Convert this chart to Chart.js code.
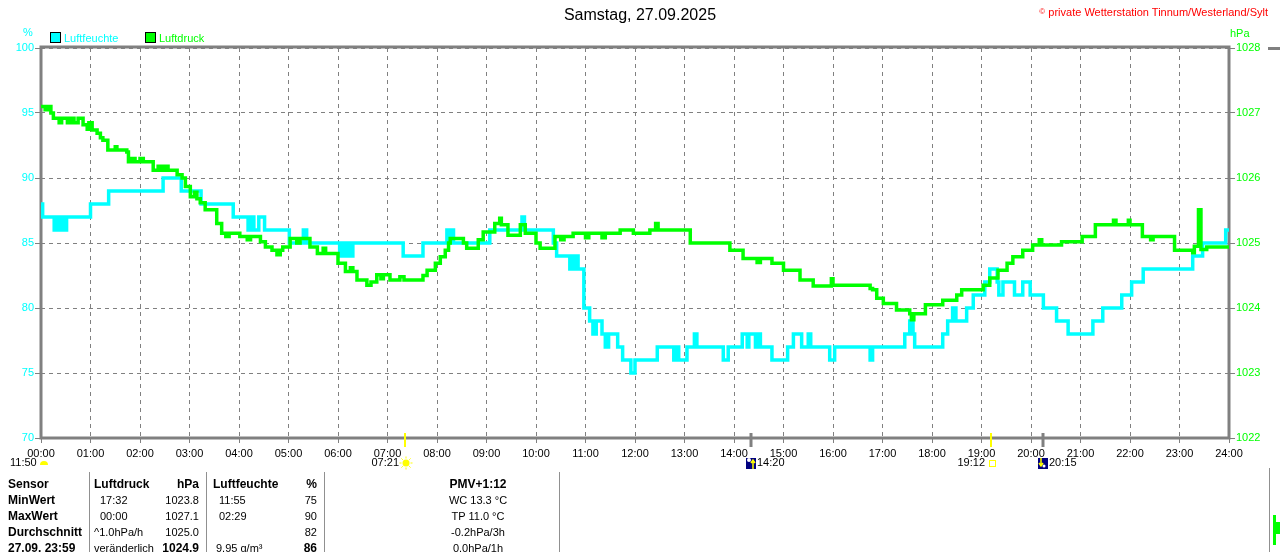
<!DOCTYPE html>
<html><head><meta charset="utf-8">
<script src="https://cdn.jsdelivr.net/npm/chart.js@4.4.0/dist/chart.umd.min.js"></script>
<style>
html,body{margin:0;padding:0;background:#fff;width:1280px;height:552px;overflow:hidden;font-family:"Liberation Sans",Arial,sans-serif;}
#wrap{position:relative;width:1280px;height:552px;}
canvas{position:absolute;left:0;top:0;}
.t{position:absolute;white-space:nowrap;font-size:11px;line-height:16px;color:#000;}
.b{font-weight:bold;font-size:12px;}
.sep{position:absolute;top:472px;height:80px;width:1px;background:#909090;}
.box{position:absolute;width:9px;height:9px;border:1px solid #000;}
</style></head>
<body><div id="wrap">
<canvas id="c" width="1280" height="552"></canvas>
<div class="t" style="left:0;width:1280px;top:6px;text-align:center;font-size:16px;line-height:18px;">Samstag, 27.09.2025</div>
<div class="t" style="right:12px;top:4px;color:#ff0000;"><span style="font-size:8px;vertical-align:top;">©</span> private Wetterstation Tinnum/Westerland/Sylt</div>
<div class="t" style="left:23px;top:24px;color:#00ffff;">%</div>
<div class="t" style="left:1230px;top:25px;color:#00ff00;">hPa</div>
<div class="box" style="left:50px;top:32px;background:#00ffff;"></div>
<div class="t" style="left:64px;top:30px;color:#00ffff;">Luftfeuchte</div>
<div class="box" style="left:145px;top:32px;background:#00ff00;"></div>
<div class="t" style="left:159px;top:30px;color:#00ff00;">Luftdruck</div>

<div class="sep" style="left:89px"></div>
<div class="sep" style="left:206px"></div>
<div class="sep" style="left:324px"></div>
<div class="sep" style="left:559px"></div>
<div class="sep" style="left:1269px;top:468px;height:84px"></div>
<div style="position:absolute;left:1268px;top:47px;width:12px;height:3px;background:#808080"></div>
<div style="position:absolute;left:1273px;top:515px;width:3px;height:30px;background:#00ff00"></div>
<div style="position:absolute;left:1276px;top:522px;width:4px;height:12px;background:#00ff00"></div>

<div class="t b" style="left:8px;top:476px">Sensor</div>
<div class="t b" style="left:8px;top:492px">MinWert</div>
<div class="t b" style="left:8px;top:508px">MaxWert</div>
<div class="t b" style="left:8px;top:524px">Durchschnitt</div>
<div class="t b" style="left:8px;top:540px">27.09. 23:59</div>

<div class="t b" style="left:94px;top:476px">Luftdruck</div>
<div class="t" style="left:100px;top:492px">17:32</div>
<div class="t" style="left:100px;top:508px">00:00</div>
<div class="t" style="left:94px;top:524px">^1.0hPa/h</div>
<div class="t" style="left:94px;top:540px">veränderlich</div>

<div class="t b" style="right:1081px;top:476px">hPa</div>
<div class="t" style="right:1081px;top:492px">1023.8</div>
<div class="t" style="right:1081px;top:508px">1027.1</div>
<div class="t" style="right:1081px;top:524px">1025.0</div>
<div class="t b" style="right:1081px;top:540px">1024.9</div>

<div class="t b" style="left:213px;top:476px">Luftfeuchte</div>
<div class="t" style="left:219px;top:492px">11:55</div>
<div class="t" style="left:219px;top:508px">02:29</div>
<div class="t" style="left:216px;top:540px">9.95 g/m³</div>

<div class="t b" style="right:963px;top:476px">%</div>
<div class="t" style="right:963px;top:492px">75</div>
<div class="t" style="right:963px;top:508px">90</div>
<div class="t" style="right:963px;top:524px">82</div>
<div class="t b" style="right:963px;top:540px">86</div>

<div class="t b" style="left:378px;width:200px;text-align:center;top:476px">PMV+1:12</div>
<div class="t" style="left:378px;width:200px;text-align:center;top:492px">WC 13.3 °C</div>
<div class="t" style="left:378px;width:200px;text-align:center;top:508px">TP 11.0 °C</div>
<div class="t" style="left:378px;width:200px;text-align:center;top:524px">-0.2hPa/3h</div>
<div class="t" style="left:378px;width:200px;text-align:center;top:540px">0.0hPa/1h</div>
</div>
<script>
// minutes since midnight
const humTimes = [0,2,16,19,22,26,28,31,60,82,148,170,194,233,251,255,258,264,271,301,318,322,362,366,368,371,374,378,439,463,492,496,498,500,544,583,586,621,625,641,645,648,650,651,658,665,669,673,680,684,688,699,705,715,720,747,767,771,773,783,792,795,827,833,850,856,858,866,868,872,886,905,912,922,930,933,956,962,1005,1008,1047,1053,1057,1059,1093,1099,1105,1109,1122,1130,1144,1150,1159,1161,1166,1180,1190,1199,1215,1231,1245,1275,1287,1310,1322,1336,1396,1408,1436,1440];
const humValues = [88,87,86,87,86,87,86,87,88,89,90,89,88,87,86,87,86,87,86,85,86,85,84,85,84,85,84,85,84,85,86,85,86,85,86,87,86,85,84,83,84,83,84,83,80,79,78,79,78,77,78,77,76,75,76,77,76,77,76,77,78,77,76,77,78,77,78,77,78,77,76,77,78,77,78,77,76,77,76,77,78,79,78,77,78,79,80,79,80,81,82,83,82,81,82,81,82,81,80,79,78,79,80,81,82,83,84,85,86,86];

const pressTimes = [0,5,8,12,15,22,25,32,36,40,45,51,56,58,62,68,72,75,81,90,92,104,106,110,114,120,124,136,142,146,150,154,165,171,175,181,186,189,193,199,213,219,224,228,241,250,254,266,272,280,286,290,293,302,310,314,326,335,342,345,360,369,375,378,383,395,400,407,412,415,423,435,440,463,468,478,484,490,494,496,512,516,530,536,550,556,558,566,581,587,600,605,623,630,634,645,660,664,680,684,702,718,738,745,748,787,835,851,868,872,886,900,920,936,958,960,1005,1008,1013,1021,1037,1053,1055,1058,1072,1093,1110,1116,1142,1150,1160,1171,1178,1190,1202,1210,1213,1237,1262,1278,1300,1303,1318,1320,1335,1345,1348,1374,1396,1398,1403,1406,1413,1440];
const pressValues = [1027.10,1027.05,1027.10,1027.00,1026.92,1026.85,1026.92,1026.85,1026.92,1026.85,1026.92,1026.82,1026.75,1026.85,1026.74,1026.69,1026.62,1026.58,1026.43,1026.48,1026.43,1026.40,1026.25,1026.30,1026.25,1026.30,1026.25,1026.12,1026.18,1026.12,1026.18,1026.12,1026.05,1026.00,1025.87,1025.71,1025.78,1025.68,1025.62,1025.51,1025.30,1025.15,1025.10,1025.15,1025.10,1025.05,1025.10,1025.02,1024.94,1024.89,1024.82,1024.89,1024.94,1025.07,1025.00,1025.07,1024.94,1024.84,1024.92,1024.84,1024.69,1024.56,1024.62,1024.56,1024.43,1024.35,1024.40,1024.51,1024.45,1024.51,1024.43,1024.48,1024.43,1024.50,1024.58,1024.69,1024.79,1024.89,1025.00,1025.07,1025.00,1024.92,1025.05,1025.17,1025.30,1025.38,1025.28,1025.12,1025.28,1025.15,1025.00,1024.92,1025.10,1025.05,1025.10,1025.15,1025.08,1025.15,1025.08,1025.15,1025.20,1025.15,1025.20,1025.30,1025.20,1025.00,1024.89,1024.76,1024.70,1024.76,1024.69,1024.58,1024.43,1024.34,1024.45,1024.35,1024.30,1024.28,1024.15,1024.07,1023.97,1023.91,1023.82,1023.91,1024.05,1024.12,1024.20,1024.28,1024.35,1024.46,1024.58,1024.69,1024.79,1024.89,1024.97,1025.05,1024.97,1025.02,1025.10,1025.28,1025.35,1025.28,1025.35,1025.28,1025.10,1025.05,1025.10,1024.89,1024.85,1024.95,1025.51,1024.90,1024.94,1024.94];

const hourTicks = ['00:00','01:00','02:00','03:00','04:00','05:00','06:00','07:00','08:00','09:00','10:00','11:00','12:00','13:00','14:00','15:00','16:00','17:00','18:00','19:00','20:00','21:00','22:00','23:00','24:00'];
const humTicks = [70,75,80,85,90,95,100];
const pressTicks = [1022,1023,1024,1025,1026,1027,1028];

// astronomical events: [minute, label]
const sunrise = [441,'07:21'];
const sunset = [1152,'19:12'];
const moonrise = [860,'14:20'];
const moonset = [1215,'20:15'];
const moonLabel = '11:50';

const humData = humTimes.map((t,i)=>({x:t,y:humValues[i]}));
const pressData = pressTimes.map((t,i)=>({x:t,y:pressValues[i]}));

const FONT = {family:'"Liberation Sans", Arial, sans-serif', size:11};
const GRAY = '#808080';

const framePlugin = {
  id:'frame',
  beforeDatasetsDraw(chart){
    const a = chart.chartArea, c = chart.ctx;
    c.save();
    c.strokeStyle = GRAY; c.lineWidth = 3;
    c.strokeRect(a.left, a.top-1, a.right-a.left, a.bottom-a.top+1);
    c.restore();
  },
  afterDraw(chart){
    const c = chart.ctx, xs = chart.scales.x, b = chart.chartArea.bottom;
    c.save();
    const mark = (m,col,w)=>{const x=Math.round(xs.getPixelForValue(m)); c.strokeStyle=col; c.lineWidth=w; c.beginPath(); c.moveTo(x,b-5); c.lineTo(x,b+9); c.stroke(); return x;};
    const ly = 463;
    c.font = '11px "Liberation Sans", Arial, sans-serif';
    c.textBaseline = 'middle';
    c.fillStyle = '#000';
    c.textAlign='left'; c.fillText(moonLabel, 10, ly);
    c.fillStyle='#ffff00'; c.beginPath(); c.arc(44, ly+2, 4, Math.PI, 0); c.fill();
    let x = mark(sunrise[0],'#ffff00',2);
    c.fillStyle='#000'; c.textAlign='right'; c.fillText(sunrise[1], x-6, ly);
    c.fillStyle='#ffff00'; c.beginPath(); c.arc(x+1, ly, 3.5, 0, Math.PI*2); c.fill();
    c.strokeStyle='#ffff00'; c.lineWidth=1;
    for(let k=0;k<8;k++){const an=k*Math.PI/4; c.beginPath(); c.moveTo(x+1+Math.cos(an)*4.5, ly+Math.sin(an)*4.5); c.lineTo(x+1+Math.cos(an)*6.5, ly+Math.sin(an)*6.5); c.stroke();}
    x = mark(moonrise[0],GRAY,3);
    c.fillStyle='#000080'; c.fillRect(x-5, ly-5, 10, 11);
    c.fillStyle='#ffffff'; c.beginPath(); c.arc(x-2, ly-3, 2, 0, Math.PI*2); c.fill();
    c.strokeStyle='#ffff00'; c.lineWidth=1.5; c.beginPath(); c.moveTo(x+2, ly+6); c.lineTo(x+2, ly-2); c.moveTo(x, ly); c.lineTo(x+2, ly-3); c.lineTo(x+4, ly); c.stroke();
    c.fillStyle='#000'; c.textAlign='left'; c.fillText(moonrise[1], x+6, ly);
    x = mark(sunset[0],'#ffff00',2);
    c.fillStyle='#000'; c.textAlign='right'; c.fillText(sunset[1], x-6, ly);
    c.strokeStyle='#ffff00'; c.lineWidth=1; c.strokeRect(x-1.5, ly-2.5, 6, 6);
    x = mark(moonset[0],GRAY,3);
    c.fillStyle='#000080'; c.fillRect(x-5, ly-5, 10, 11);
    c.strokeStyle='#ffff00'; c.lineWidth=1.5; c.beginPath(); c.moveTo(x-2, ly-5); c.lineTo(x-2, ly+2); c.moveTo(x-4, ly); c.lineTo(x-2, ly+3); c.lineTo(x, ly); c.stroke();
    c.fillStyle='#ffffff'; c.beginPath(); c.arc(x+1, ly+3, 1.5, 0, Math.PI*2); c.fill();
    c.fillStyle='#000'; c.textAlign='left'; c.fillText(moonset[1], x+6, ly);
    c.restore();
  }
};

new Chart(document.getElementById('c'), {
  type:'line',
  data:{datasets:[
    {label:'Luftdruck', data:pressData, yAxisID:'y1', borderColor:'#00ff00', backgroundColor:'#00ff00', borderWidth:3.5, stepped:true, pointRadius:0, fill:false},
    {label:'Luftfeuchte', data:humData, yAxisID:'y', borderColor:'#00ffff', backgroundColor:'#00ffff', borderWidth:3.5, stepped:true, pointRadius:0, fill:false}
  ]},
  options:{
    responsive:false, animation:false, events:[],
    layout:{padding:{top:48,bottom:90,left:0,right:0}},
    plugins:{legend:{display:false}, tooltip:{enabled:false}},
    scales:{
      x:{type:'linear', min:0, max:1440,
        afterBuildTicks(s){ s.ticks = hourTicks.map((l,i)=>({value:i*60})); },
        afterFit(s){ s.height = 24; },
        ticks:{callback:(v)=>hourTicks[Math.round(v/60)], color:'#000', font:FONT, padding:4, maxRotation:0, autoSkip:false},
        grid:{color:GRAY, lineWidth:1, tickLength:5, tickColor:GRAY, tickBorderDash:[], tickWidth:1},
        border:{display:false, dash:[4,4]}
      },
      y:{position:'left', min:70, max:100,
        afterBuildTicks(s){ s.ticks=humTicks.map(v=>({value:v})); },
        afterFit(s){ s.width = 41; },
        ticks:{color:'#00ffff', font:FONT, padding:1, callback:(v)=>String(v)},
        grid:{color:GRAY, lineWidth:1, tickLength:6, tickColor:GRAY, tickBorderDash:[], tickWidth:1},
        border:{display:false, dash:[4,4]}
      },
      y1:{position:'right', min:1022, max:1028,
        afterBuildTicks(s){ s.ticks=pressTicks.map(v=>({value:v})); },
        afterFit(s){ s.width = 51; },
        ticks:{color:'#00ff00', font:FONT, padding:1, callback:(v)=>String(v)},
        grid:{drawOnChartArea:false, tickLength:6, tickColor:GRAY, tickWidth:1},
        border:{display:false}
      }
    }
  },
  plugins:[framePlugin]
});
</script>
</body></html>
